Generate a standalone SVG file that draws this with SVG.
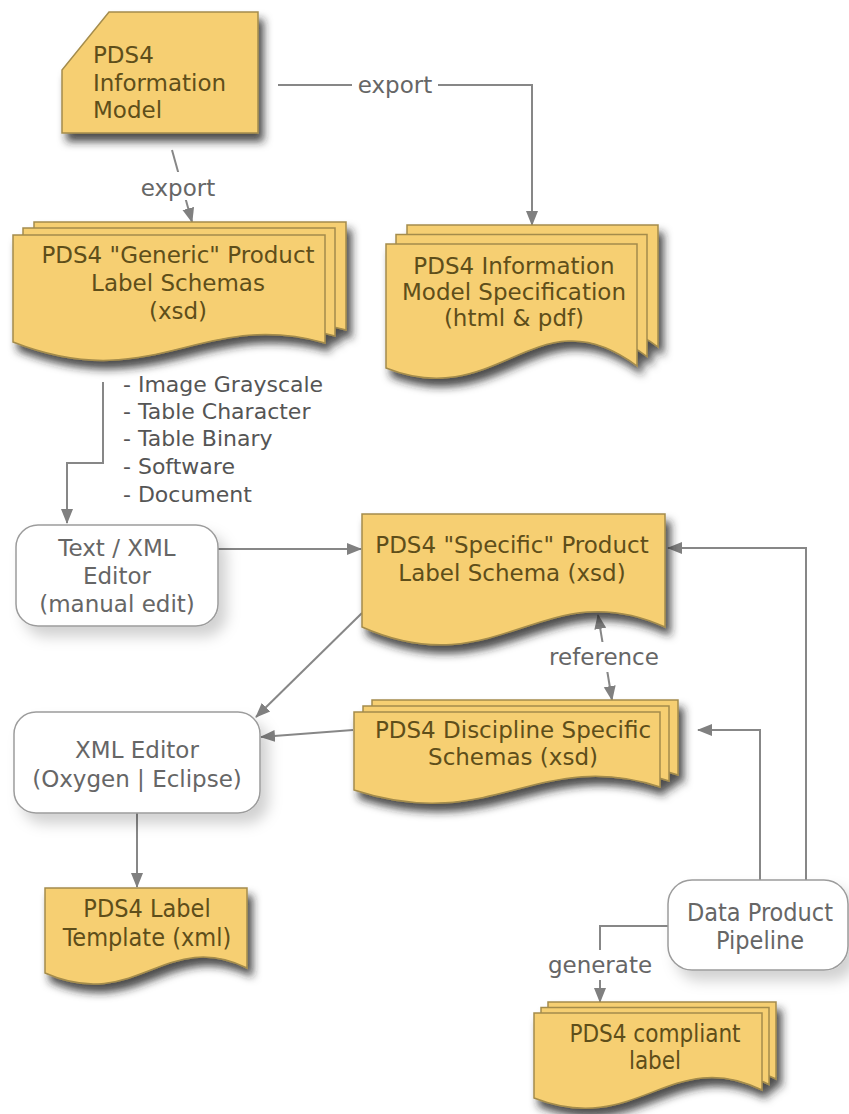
<svg xmlns="http://www.w3.org/2000/svg" width="849" height="1114" viewBox="0 0 849 1114">
<style>
.doc{fill:#F6CF72;stroke:#a48c4c;stroke-width:1.5}
.box{fill:#ffffff;stroke:#9c9c9c;stroke-width:1.5}
.t{font-family:"DejaVu Sans",Verdana,sans-serif;font-size:23px;fill:#5e4e1a}
.c{font-family:"DejaVu Sans Condensed","DejaVu Sans",sans-serif;font-stretch:condensed;font-size:25px;fill:#5e4e1a}
.c2{font-family:"DejaVu Sans Condensed","DejaVu Sans",sans-serif;font-stretch:condensed;font-size:24px;fill:#5e4e1a}
.g{font-family:"DejaVu Sans",Verdana,sans-serif;font-size:23px;fill:#666666}
.gc{font-family:"DejaVu Sans Condensed","DejaVu Sans",sans-serif;font-stretch:condensed;font-size:25px;fill:#666666}
.l{font-family:"DejaVu Sans",Verdana,sans-serif;font-size:22px;fill:#555555}
.lbl{font-family:"DejaVu Sans",Verdana,sans-serif;font-size:23px;fill:#666666}
.mid{text-anchor:middle}
.con{fill:none;stroke:#878787;stroke-width:2}
</style>
<defs>
<filter id="ds" x="-10%" y="-10%" width="130%" height="140%">
<feDropShadow dx="5" dy="8" stdDeviation="4.5" flood-color="#222" flood-opacity="0.8"/>
</filter>
<filter id="ls" x="-15%" y="-15%" width="140%" height="150%">
<feDropShadow dx="8" dy="10" stdDeviation="7" flood-color="#000" flood-opacity="0.18"/>
</filter>
<marker id="ah" markerUnits="userSpaceOnUse" markerWidth="16" markerHeight="14" refX="14" refY="6" orient="auto-start-reverse" viewBox="0 0 16 12">
<path d="M0,0 L15,6 L0,12 Z" fill="#808080"/>
</marker>
</defs>

<g id="connectors">
<path class="con" d="M278,85 H532 V225" marker-end="url(#ah)"/>
<path class="con" d="M172,150 L192,222" marker-end="url(#ah)"/>
<path class="con" d="M103,382 V463 H67 V523" marker-end="url(#ah)"/>
<path class="con" d="M218,549 H361" marker-end="url(#ah)"/>
<path class="con" d="M362,613 L256,717" marker-end="url(#ah)"/>
<path class="con" d="M353,730 L261,737" marker-end="url(#ah)"/>
<path class="con" d="M137,813 V887" marker-end="url(#ah)"/>
<path class="con" d="M806,880 V548 H668" marker-end="url(#ah)"/>
<path class="con" d="M760,880 V730 H698" marker-end="url(#ah)"/>
<path class="con" d="M598,615 L612,700" marker-start="url(#ah)" marker-end="url(#ah)"/>
<path class="con" d="M668,926 H600 V1002" marker-end="url(#ah)"/>
<rect x="352" y="70" width="86" height="30" fill="#fff"/>
<text class="lbl mid" x="395" y="93">export</text>
<rect x="140" y="172" width="78" height="28" fill="#fff"/>
<text class="lbl mid" x="178" y="196">export</text>
<rect x="548" y="642" width="112" height="30" fill="#fff"/>
<text class="lbl mid" x="604" y="665">reference</text>
<rect x="550" y="950" width="102" height="30" fill="#fff"/>
<text class="lbl mid" x="600" y="973">generate</text>
</g>

<g id="info-model">
<polygon class="doc" filter="url(#ds)" points="109,12 258,12 258,133 62,133 62,70"/>
<text class="t" x="93" y="63">PDS4</text>
<text class="t" x="93" y="91">Information</text>
<text class="t" x="93" y="118">Model</text>
</g>

<g id="generic-schemas">
<g filter="url(#ds)">
<path class="doc" d="M34,222 H346 V330 C221,295 174,384 34,329 Z"/>
<path class="doc" d="M23,228 H335 V336 C210,301 163,390 23,335 Z"/>
<path class="doc" d="M13,235 H325 V343 C200,308 153,397 13,342 Z"/>
</g>
<text class="t mid" x="178" y="263">PDS4 "Generic" Product</text>
<text class="t mid" x="178" y="291">Label Schemas</text>
<text class="t mid" x="178" y="319">(xsd)</text>
</g>

<g id="im-spec">
<g filter="url(#ds)">
<path class="doc" d="M407,225 H658 V347 C558,272 520,394 407,349 Z"/>
<path class="doc" d="M396,234.5 H647 V356.5 C547,281.5 509,403.5 396,358.5 Z"/>
<path class="doc" d="M386,244 H637 V366 C537,291 499,413 386,368 Z"/>
</g>
<text class="t mid" x="514" y="274">PDS4 Information</text>
<text class="t mid" x="514" y="300">Model Specification</text>
<text class="t mid" x="514" y="326">(html &amp; pdf)</text>
</g>

<g id="schema-list">
<text class="l" x="123" y="392">- Image Grayscale</text>
<text class="l" x="123" y="419">- Table Character</text>
<text class="l" x="123" y="446">- Table Binary</text>
<text class="l" x="123" y="474">- Software</text>
<text class="l" x="123" y="502">- Document</text>
</g>

<g id="text-xml-editor">
<rect class="box" filter="url(#ls)" x="16" y="525" width="202" height="101" rx="22"/>
<text class="g mid" x="117" y="556">Text / XML</text>
<text class="g mid" x="117" y="584">Editor</text>
<text class="g mid" x="117" y="612">(manual edit)</text>
</g>

<g id="specific-schema">
<path class="doc" filter="url(#ds)" d="M362,514 H665 V627 C544,572 498,687 362,627 Z"/>
<text class="t mid" x="512" y="553">PDS4 "Specific" Product</text>
<text class="t mid" x="512" y="581">Label Schema (xsd)</text>
</g>

<g id="xml-editor">
<rect class="box" filter="url(#ls)" x="14" y="712" width="246" height="101" rx="22"/>
<text class="g mid" x="137" y="758">XML Editor</text>
<text class="g mid" x="137" y="787">(Oxygen | Eclipse)</text>
</g>

<g id="discipline-schemas">
<g filter="url(#ds)">
<path class="doc" d="M372,700 H678 V775 C556,735 510,823 372,778 Z"/>
<path class="doc" d="M363,706 H669 V781 C547,741 501,829 363,784 Z"/>
<path class="doc" d="M354,712 H660 V787 C538,747 492,835 354,790 Z"/>
</g>
<text class="t mid" x="513" y="738">PDS4 Discipline Specific</text>
<text class="t mid" x="513" y="765">Schemas (xsd)</text>
</g>

<g id="label-template">
<path class="doc" filter="url(#ds)" d="M45,888 H247 V968 C166,928 136,1013 45,973 Z"/>
<text class="c mid" x="147" y="917">PDS4 Label</text>
<text class="c mid" x="147" y="946">Template (xml)</text>
</g>

<g id="pipeline">
<rect class="box" filter="url(#ls)" x="668" y="880" width="180" height="90" rx="24"/>
<text class="gc mid" x="760" y="921">Data Product</text>
<text class="gc mid" x="760" y="949">Pipeline</text>
</g>

<g id="compliant-label">
<g filter="url(#ds)">
<path class="doc" d="M548,1002 H776 V1079 C685,1034 651,1127 548,1087 Z"/>
<path class="doc" d="M541,1007.5 H769 V1084.5 C678,1039.5 644,1132.5 541,1092.5 Z"/>
<path class="doc" d="M534,1013 H762 V1090 C671,1045 637,1138 534,1098 Z"/>
</g>
<text class="c2 mid" x="655" y="1042">PDS4 compliant</text>
<text class="c2 mid" x="655" y="1069">label</text>
</g>
</svg>
